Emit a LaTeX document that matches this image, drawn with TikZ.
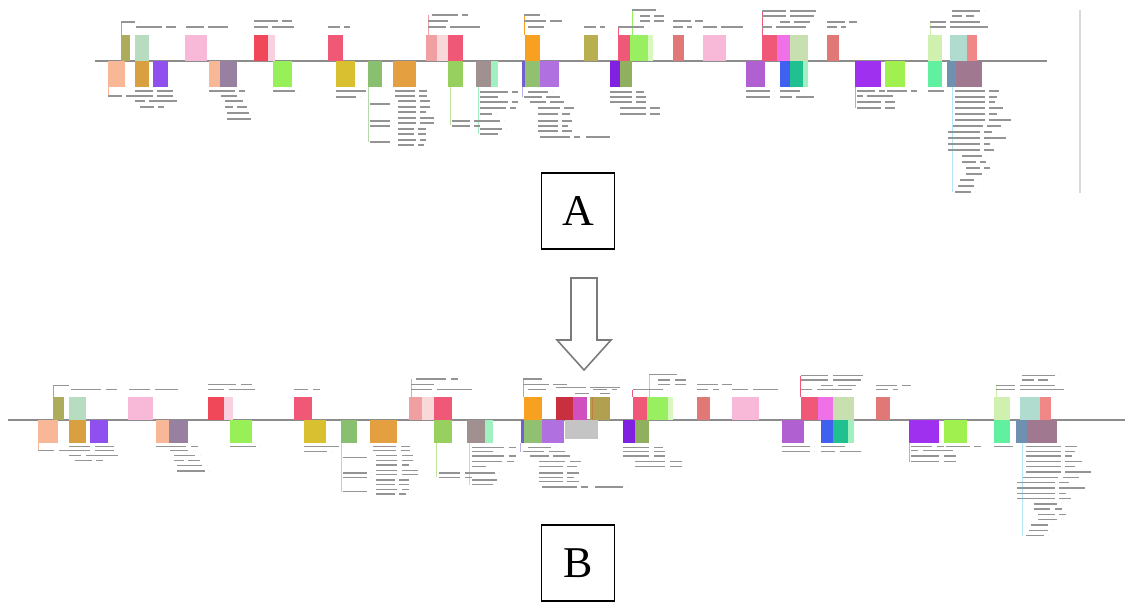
\documentclass[tikz,border=0pt]{standalone}
\usepackage{fontspec}
\setmainfont{Liberation Serif}
\usetikzlibrary{calc}

% gene colours
\definecolor{olv}{HTML}{ACAC5C}
\definecolor{olv2}{HTML}{B8B050}
\definecolor{olv3}{HTML}{B0A050}
\definecolor{pgrn}{HTML}{B8DCC0}
\definecolor{pgrn2}{HTML}{D8F8C0}
\definecolor{pgrn3}{HTML}{D0F0B0}
\definecolor{pnk}{HTML}{F8B8D8}
\definecolor{red1}{HTML}{F04858}
\definecolor{drd}{HTML}{C83040}
\definecolor{lpnk}{HTML}{F8D0E0}
\definecolor{prd}{HTML}{F05878}
\definecolor{slm}{HTML}{F0A0A0}
\definecolor{slm2}{HTML}{F8D8D8}
\definecolor{org}{HTML}{F8A020}
\definecolor{org2}{HTML}{E4A040}
\definecolor{lgrn}{HTML}{98F060}
\definecolor{srd}{HTML}{E07878}
\definecolor{mag}{HTML}{F070E8}
\definecolor{mag2}{HTML}{D050C0}
\definecolor{bge}{HTML}{C8E0B0}
\definecolor{ltl}{HTML}{B0DCD0}
\definecolor{slr}{HTML}{F08888}
\definecolor{pch}{HTML}{F8B898}
\definecolor{obr}{HTML}{D8A040}
\definecolor{prp}{HTML}{9050F0}
\definecolor{prp2}{HTML}{B070E0}
\definecolor{prp3}{HTML}{B060D0}
\definecolor{mav}{HTML}{9880A0}
\definecolor{mav2}{HTML}{A07890}
\definecolor{lim}{HTML}{98F058}
\definecolor{lim2}{HTML}{A0F050}
\definecolor{mus}{HTML}{D8C030}
\definecolor{grn}{HTML}{88C070}
\definecolor{ygrn}{HTML}{98D060}
\definecolor{gr2}{HTML}{90C070}
\definecolor{og}{HTML}{90B060}
\definecolor{gmv}{HTML}{A09090}
\definecolor{mnt}{HTML}{A0F0C0}
\definecolor{mgr}{HTML}{60F0A0}
\definecolor{pbl}{HTML}{7060D0}
\definecolor{vio}{HTML}{8020E0}
\definecolor{vio2}{HTML}{A030F0}
\definecolor{blu}{HTML}{4060F0}
\definecolor{tea}{HTML}{20C090}
\definecolor{stb}{HTML}{7090B0}
\definecolor{gry}{HTML}{C4C4C4}
\definecolor{arrowgray}{HTML}{7A7A7A}

\tikzset{
  lbl/.style={fill=black!42},
  link/.style={line width=0.4pt},
  axis/.style={line width=0.9pt, black!45},
  panel/.style={draw, line width=0.9pt, minimum width=1.46cm, minimum height=1.52cm,
                font=\fontsize{25}{30}\selectfont}
}

% one gene map, drawn in pixel units (axis at y=61)
\newcommand{\genetrack}{%
  % genes above the axis
  \foreach \xa/\xb/\col in {121/130/olv, 135/149/pgrn, 185/207/pnk, 254/268/red1,
      268/275/lpnk, 328/343/prd, 426/437/slm, 437/448/slm2, 448/463/prd,
      525/540/org, 584/598/olv2, 618/630/prd, 630/648/lgrn, 648/653/pgrn2,
      673/684/srd, 703/726/pnk, 762/777/prd, 777/790/mag, 790/808/bge,
      827/839/srd, 928/942/pgrn3, 950/967/ltl, 967/977/slr}
    {\fill[\col] (\xa,35) rectangle (\xb,61);}
  % genes below the axis
  \foreach \xa/\xb/\col in {108/125/pch, 135/149/obr, 153/168/prp, 209/220/pch,
      220/237/mav, 273/292/lim, 336/355/mus, 368/382/grn, 393/416/org2,
      448/463/ygrn, 476/491/gmv, 491/498/mnt, 522/525/pbl, 525/540/gr2,
      540/559/prp2, 610/620/vio, 620/632/og, 746/765/prp3, 780/790/blu,
      790/803/tea, 803/808/mnt, 855/881/vio2, 885/905/lim2, 928/942/mgr,
      947/956/stb, 956/982/mav2}
    {\fill[\col] (\xa,61) rectangle (\xb,87);}
  % label leaders
  \foreach \xx/\ya/\yb/\col in {108/87/96/pch, 121/22/35/olv, 428/15/35/slm,
      524/15/35/org, 618/27/35/prd, 632/10/35/lgrn, 762/11/35/prd, 930/22/35/pgrn3,
      368/87/142/grn!60, 450/87/125/ygrn!60, 478/87/134/mnt, 522/87/97/pbl!50,
      855/87/108/vio2!50, 952/87/192/cyan!30}
    {\draw[link, \col] (\xx,\ya) -- (\xx,\yb);}
  % labels above the axis
  \foreach \xx/\yy/\wa/\wb in {121/21/14/0, 136/26/26/10, 186/26/18/20,
      254/20/24/10, 254/26/14/22, 328/26/12/6, 432/14/26/6, 428/20/20/0,
      428/26/18/30, 524/14/16/0, 524/20/22/12, 528/26/16/0, 584/26/12/5,
      632/9/24/0, 640/15/10/10, 640/20/10/10, 618/26/26/0, 673/20/18/8,
      673/26/10/5, 703/26/14/22, 762/10/24/26, 762/15/24/24, 780/21/10/16,
      762/26/10/30, 827/21/18/8, 827/26/10/5, 952/10/28/0, 952/15/10/8,
      930/21/16/30, 930/26/16/38}
    {\fill[lbl] (\xx,\yy) rectangle ++(\wa,1.5);
     \fill[lbl] ({\xx+\wa+4},\yy) rectangle ++(\wb,1.5);}
  % labels below the axis
  \foreach \xx/\yy/\wa/\wb in {108/95/14/22, 135/90/18/16, 135/95/18/16,
      135/100/10/28, 140/106/14/6, 209/90/26/6, 221/95/16/0, 225/100/18/0,
      225/106/8/10, 227/112/22/0, 227/118/24/0, 273/90/22/0, 336/90/30/0,
      336/96/20/0, 395/90/20/8, 395/95/20/8, 398/100/18/10, 398/106/18/10,
      398/111/18/6, 398/117/18/14, 398/122/18/14, 398/128/16/8, 398/133/16/8,
      398/139/18/6, 398/144/16/6, 370/103/20/0, 370/120/20/0, 370/125/20/0,
      370/141/20/0, 452/120/18/6, 452/125/18/6, 480/91/28/6, 480/96/18/0,
      480/101/28/6, 480/107/26/6, 480/113/12/0, 480/120/20/0, 480/128/22/0,
      480/133/18/0, 528/91/20/0, 524/96/18/14, 530/101/16/14, 538/107/22/10,
      538/113/20/8, 538/120/20/10, 538/125/20/6, 538/130/20/10, 540/136/30/6,
      586/136/24/0, 610/91/22/8, 610/96/22/10, 610/101/22/10, 620/107/26/10,
      620/113/26/10, 746/90/24/0, 746/96/24/0, 780/90/20/0, 780/96/12/18,
      857/90/18/6, 857/95/6/26, 857/101/24/10, 857/107/24/10, 887/90/20/6,
      928/90/16/0}
    {\fill[lbl] (\xx,\yy) rectangle ++(\wa,1.5);
     \fill[lbl] ({\xx+\wa+4},\yy) rectangle ++(\wb,1.5);}
  % long label column under the last cluster
  \foreach \xx/\yy/\wa/\wb in {955/90/30/10, 955/96/30/8, 955/101/30/6,
      955/107/30/14, 955/113/30/8, 955/119/30/22, 953/125/30/14, 948/131/32/8,
      948/137/32/22, 948/143/32/6, 948/149/32/10, 962/155/20/0, 962/161/14/6,
      966/167/14/6, 966/173/16/0, 960/179/14/0, 958/185/16/0, 955/191/16/0}
    {\fill[lbl] (\xx,\yy) rectangle ++(\wa,1.5);
     \fill[lbl] ({\xx+\wa+4},\yy) rectangle ++(\wb,1.5);}
}

\begin{document}
\begin{tikzpicture}[x=0.02cm, y=-0.02cm]
\useasboundingbox (0,0) rectangle (1125,602);

% Map A
\draw[axis] (95,61) -- (1047,61);
\genetrack
\draw[black!15, line width=0.6pt] (1080,10) -- (1080,193);

% Map B, same genes spread wider
\draw[axis] (8,420) -- (1125,420);
\begin{scope}[shift={(-88,366)}, xscale=1.166, yscale=0.885]
  \genetrack
\end{scope}

% Extra genes in B
\fill[drd] (556,397) rectangle (573,420);
\fill[mag2] (573,397) rectangle (587,420);
\fill[olv3] (590,397) rectangle (610,420);
\draw[link, brown] (592,397) -- (592,420);
\fill[gry] (565,420) rectangle (598,439);
\foreach \xx/\yy/\wa/\wb in {556/387/30/30, 575/393/14/0, 600/393/10/0}
  {\fill[lbl] (\xx,\yy) rectangle ++(\wa,1.4);
   \fill[lbl] ({\xx+\wa+4},\yy) rectangle ++(\wb,1.4);}

% Panel letters
\node[panel] (boxA) at (578,211) {A};
\node[panel] (boxB) at (578,563) {B};

% Hollow arrow from A to B
\draw[arrowgray, line width=0.9pt, line join=miter]
    (571,278) -- (597,278) -- (597,340) -- (611,340) -- (584,370)
    -- (557,340) -- (571,340) -- cycle;

\end{tikzpicture}
\end{document}
